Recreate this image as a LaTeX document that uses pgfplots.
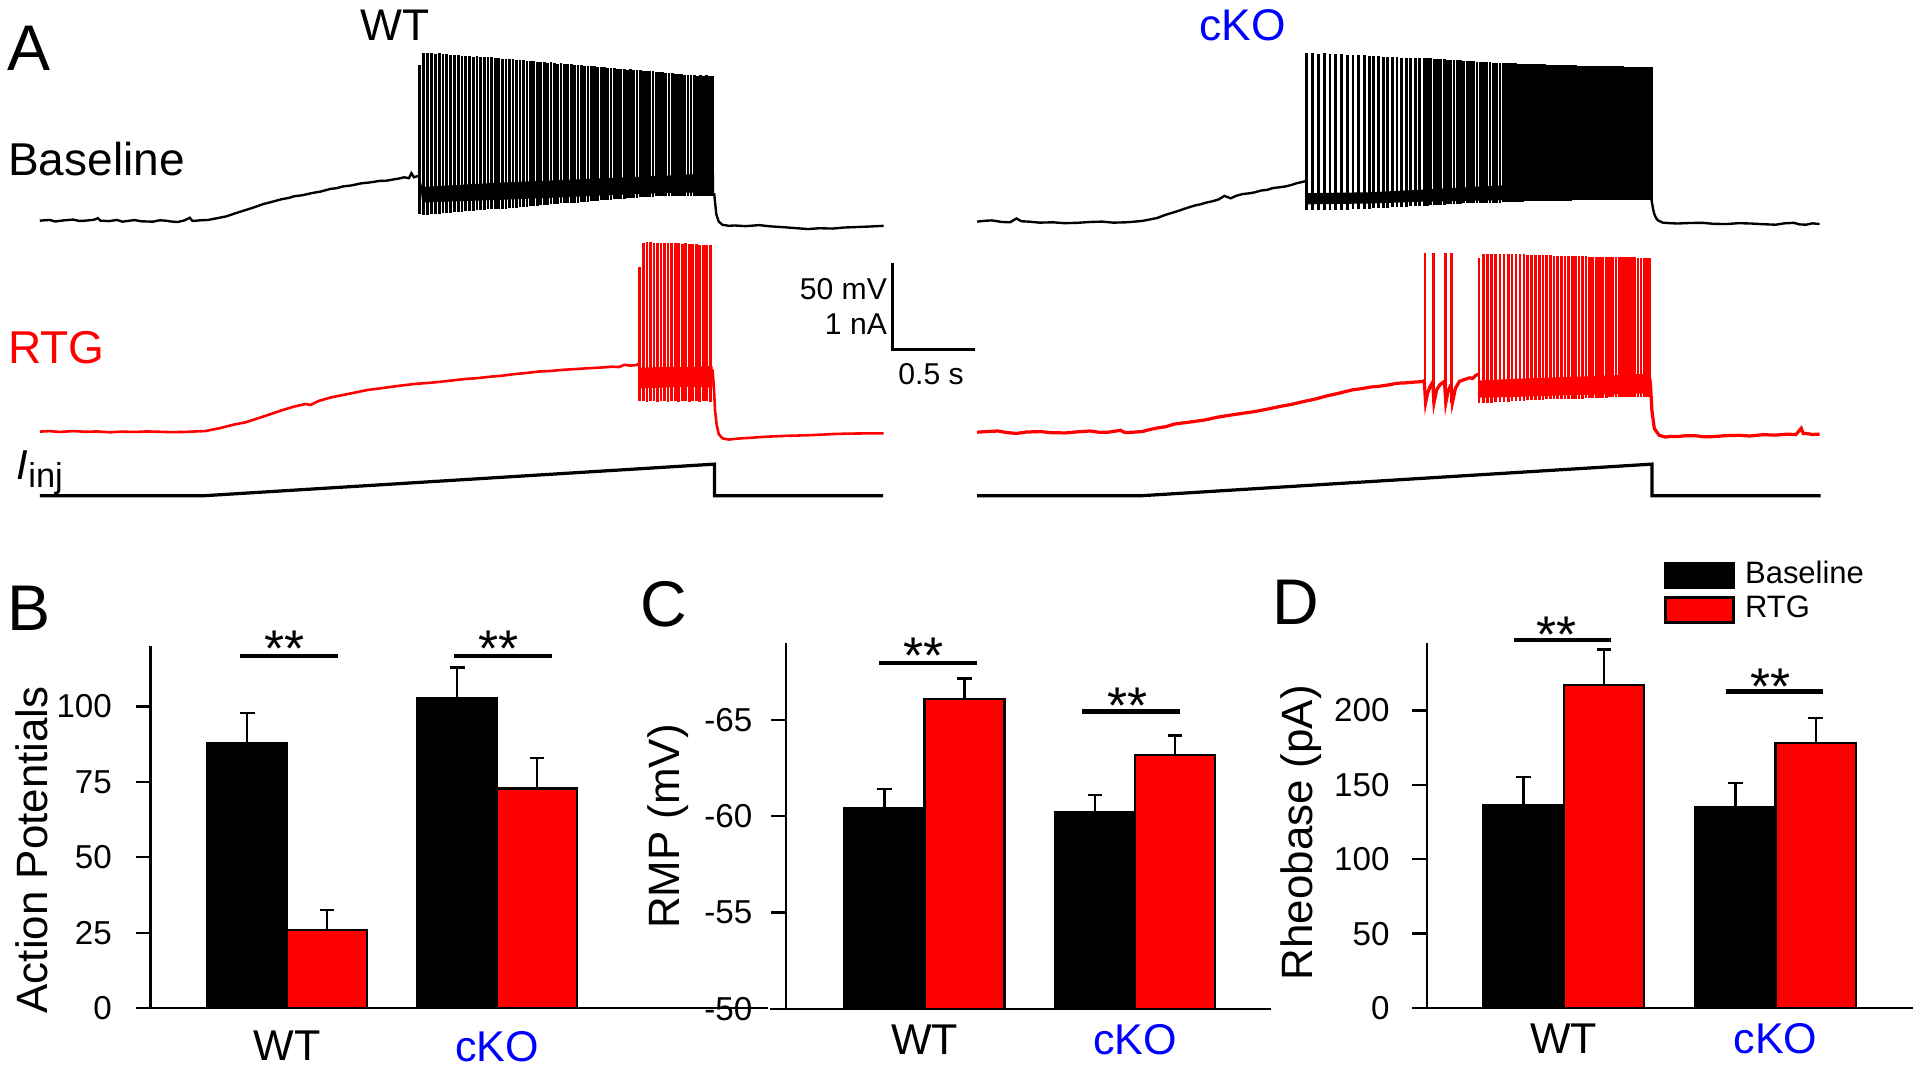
\documentclass[border=0pt]{standalone}
\usepackage{fontspec}
\setmainfont{Liberation Sans}
\usepackage{pgfplots}
\usepackage{pgfplotstable}
\pgfplotsset{compat=1.18}

\definecolor{rtg}{RGB}{255,0,0}
\definecolor{ko}{RGB}{0,0,255}
\newcommand{\fsz}[1]{\fontsize{#1}{#1}\selectfont}

% ---------------- panel A: traces (t in s, V in mV, I in pA) ----------------
\pgfplotstableread{
t v
0.000 -62.0
0.060 -61.6
0.093 -62.5
0.150 -61.8
0.205 -61.4
0.240 -62.2
0.280 -62.0
0.330 -61.5
0.354 -60.6
0.370 -62.0
0.420 -62.3
0.470 -61.6
0.504 -62.6
0.550 -62.0
0.578 -61.7
0.620 -62.4
0.690 -62.6
0.730 -61.8
0.765 -62.0
0.800 -62.5
0.840 -62.8
0.880 -61.9
0.914 -60.3
0.930 -62.2
0.980 -61.8
1.026 -61.6
1.080 -60.6
1.138 -59.5
1.190 -57.8
1.250 -56.0
1.300 -54.5
1.362 -52.4
1.420 -51.0
1.474 -49.6
1.520 -48.8
1.549 -47.9
1.600 -47.3
1.660 -46.0
1.710 -45.2
1.772 -43.6
1.810 -43.2
1.847 -42.2
1.900 -41.6
1.959 -40.4
2.010 -39.9
2.071 -39.0
2.110 -38.9
2.146 -38.3
2.190 -37.6
2.220 -36.9
2.250 -37.4
2.265 -34.5
2.280 -36.9
2.300 -36.3
2.313 -36.0
}\wtblpre
\pgfplotstableread{
t v
2.313 -36.0
2.330 -42.5
2.800 -40.0
3.300 -38.0
3.800 -36.0
4.110 -34.5
4.110 -45.5
3.800 -46.0
3.300 -48.0
2.800 -50.0
2.330 -51.5
}\wtblband
\pgfplotstableread{
t lo hi
2.315 -58.0 28.0
2.338 -58.5 35.0
2.362 -58.5 35.0
2.386 -58.0 35.2
2.410 -58.0 34.5
2.434 -58.0 35.0
2.457 -57.5 34.5
2.481 -57.5 34.6
2.504 -57.5 34.0
2.527 -57.0 34.2
2.550 -57.0 34.0
2.573 -57.0 33.5
2.596 -56.5 33.6
2.619 -56.5 33.5
2.642 -56.5 33.0
2.664 -56.0 33.2
2.687 -56.0 32.8
2.709 -56.0 32.5
2.731 -55.5 32.6
2.753 -55.5 32.5
2.775 -55.5 32.0
2.797 -55.0 32.1
2.819 -55.0 31.8
2.841 -55.0 31.5
2.862 -54.5 31.6
2.884 -54.5 31.4
2.905 -54.5 31.0
2.926 -54.0 31.1
2.948 -54.0 30.8
2.969 -54.0 30.5
2.990 -53.5 30.6
3.011 -53.5 30.4
3.032 -53.5 30.0
3.053 -53.0 30.1
3.074 -53.0 29.8
3.095 -53.0 29.5
3.115 -52.5 29.6
3.136 -52.5 29.4
3.157 -52.5 29.0
3.177 -52.0 29.1
3.198 -52.0 28.8
3.218 -52.0 28.5
3.239 -51.5 28.6
3.259 -51.5 28.4
3.280 -51.5 28.0
3.300 -51.0 28.1
3.320 -51.0 27.8
3.341 -51.0 27.5
3.361 -50.5 27.6
3.381 -50.5 27.4
3.401 -50.5 27.0
3.421 -50.0 27.1
3.441 -50.0 26.8
3.461 -50.0 26.5
3.481 -50.0 26.6
3.501 -49.5 26.4
3.521 -49.5 26.0
3.541 -49.5 26.1
3.561 -49.5 25.8
3.581 -49.0 25.5
3.600 -49.0 25.6
3.620 -49.0 25.4
3.640 -49.0 25.0
3.659 -48.5 25.1
3.679 -48.5 24.8
3.698 -48.5 24.5
3.718 -48.5 24.6
3.737 -48.5 24.4
3.757 -48.0 24.0
3.776 -48.0 24.1
3.796 -48.0 23.8
3.815 -48.0 23.5
3.834 -48.0 23.6
3.854 -48.0 23.4
3.873 -48.0 23.0
3.892 -48.0 23.1
3.911 -48.0 22.8
3.931 -48.0 22.5
3.950 -48.0 22.6
3.969 -48.0 22.5
3.988 -48.0 22.4
4.007 -48.0 22.0
4.026 -48.0 22.2
4.045 -48.0 22.0
4.064 -48.0 22.1
4.083 -48.0 22.0
4.102 -48.0 22.0
}\wtblspk
\pgfplotstableread{
t v
4.110 -46.0
4.115 -51.2
4.123 -58.3
4.138 -62.6
4.160 -64.4
4.200 -65.0
4.235 -64.8
4.300 -65.2
4.384 -64.6
4.450 -65.3
4.534 -65.8
4.600 -66.3
4.683 -66.9
4.750 -66.4
4.832 -66.6
4.900 -66.0
4.981 -65.7
5.060 -65.4
5.143 -65.0
}\wtblpost

\pgfplotstableread{
t v
0.000 -66.0
0.060 -65.7
0.120 -66.2
0.205 -65.7
0.280 -66.1
0.350 -65.9
0.429 -66.4
0.500 -66.0
0.580 -66.2
0.653 -65.9
0.730 -66.1
0.800 -66.3
0.877 -66.2
0.950 -65.9
1.007 -65.7
1.101 -63.9
1.180 -62.0
1.250 -60.7
1.320 -58.6
1.399 -56.1
1.480 -53.5
1.549 -51.5
1.620 -50.0
1.650 -50.6
1.698 -48.3
1.770 -46.3
1.847 -44.8
1.920 -43.4
1.996 -41.9
2.070 -41.0
2.146 -40.0
2.220 -39.1
2.295 -38.3
2.370 -37.8
2.444 -37.1
2.520 -36.3
2.593 -35.5
2.670 -35.0
2.743 -34.2
2.820 -33.6
2.892 -32.7
2.960 -32.1
3.041 -31.2
3.110 -30.9
3.190 -30.2
3.260 -29.8
3.340 -29.3
3.420 -28.9
3.489 -28.4
3.530 -28.6
3.563 -27.3
3.600 -27.8
3.638 -27.4
3.652 -26.5
}\wtrtpre
\pgfplotstableread{
t v
3.652 -26.5
3.665 -29.0
3.800 -28.5
3.950 -28.5
4.100 -28.0
4.100 -40.5
3.950 -40.0
3.800 -40.5
3.665 -41.0
}\wtrtband
\pgfplotstableread{
t lo hi
3.657 -48.5 29.5
3.678 -48.5 43.5
3.700 -48.8 44.0
3.721 -48.5 44.0
3.743 -48.5 43.5
3.764 -48.8 43.5
3.786 -48.5 43.5
3.807 -48.5 43.0
3.829 -48.8 43.5
3.850 -48.5 43.0
3.872 -48.5 43.0
3.893 -48.8 43.0
3.915 -48.5 42.5
3.936 -48.5 43.0
3.958 -48.8 42.5
3.979 -48.5 42.5
4.001 -48.5 42.5
4.022 -48.8 42.0
4.044 -48.5 42.0
4.065 -48.5 42.0
4.087 -48.8 42.0
}\wtrtspk
\pgfplotstableread{
t v
4.100 -30.0
4.108 -40.0
4.115 -53.6
4.125 -62.0
4.138 -67.5
4.160 -69.9
4.198 -70.6
4.272 -69.9
4.330 -69.6
4.384 -69.2
4.460 -68.8
4.534 -68.5
4.610 -68.3
4.683 -68.1
4.760 -67.8
4.832 -67.4
4.910 -67.2
4.981 -67.1
5.060 -67.0
5.143 -67.0
}\wtrtpost

\pgfplotstableread{
t v
0.000 -60.0
0.050 -59.5
0.090 -59.3
0.150 -60.2
0.201 -60.4
0.239 -58.2
0.270 -59.8
0.313 -60.0
0.380 -60.6
0.463 -60.4
0.530 -60.9
0.612 -60.7
0.690 -60.2
0.761 -60.0
0.830 -60.6
0.910 -60.4
0.960 -60.0
1.007 -59.6
1.050 -58.8
1.097 -57.9
1.150 -56.0
1.209 -54.3
1.265 -52.5
1.321 -50.8
1.360 -50.0
1.396 -49.0
1.430 -48.3
1.470 -47.2
1.507 -45.1
1.545 -46.5
1.580 -45.0
1.619 -44.0
1.660 -43.6
1.694 -43.0
1.730 -42.0
1.769 -41.6
1.800 -40.6
1.843 -40.1
1.880 -39.6
1.918 -38.7
1.950 -37.7
1.970 -37.3
2.000 -36.6
}\kobpre
\pgfplotstableread{
t v
2.000 -36.6
2.010 -43.5
2.400 -43.0
2.700 -41.5
3.200 -39.0
3.700 -37.5
4.108 -36.0
4.108 -46.5
3.700 -47.0
3.200 -47.5
2.700 -48.5
2.400 -49.5
2.010 -50.0
}\kobband
\pgfplotstableread{
t lo hi
2.007 -53.5 37.5
2.043 -53.5 37.5
2.079 -53.5 37.0
2.115 -53.5 37.5
2.150 -53.0 37.0
2.186 -53.0 37.0
2.221 -53.0 37.0
2.256 -53.0 36.5
2.291 -52.5 36.5
2.326 -52.5 36.5
2.360 -52.5 36.5
2.389 -52.5 36.0
2.417 -52.0 36.0
2.446 -52.0 36.0
2.474 -52.0 35.5
2.503 -52.0 35.5
2.531 -51.5 35.5
2.559 -51.5 35.5
2.587 -51.5 35.0
2.615 -51.5 35.0
2.643 -51.0 35.0
2.670 -51.0 35.0
2.697 -51.0 34.5
2.724 -51.0 34.5
2.745 -51.0 34.5
2.765 -50.5 34.5
2.786 -50.5 34.0
2.806 -50.5 34.0
2.826 -50.5 34.0
2.846 -50.5 34.0
2.866 -50.0 33.5
2.886 -50.0 33.5
2.906 -50.0 33.5
2.926 -50.0 33.5
2.946 -50.0 33.5
2.966 -49.5 33.0
2.986 -49.5 33.0
3.006 -49.5 33.0
3.026 -49.5 33.0
3.046 -49.5 32.5
3.066 -49.5 32.5
3.086 -49.0 32.5
3.106 -49.0 32.5
3.126 -49.0 32.5
3.146 -49.0 32.0
3.166 -49.0 32.0
3.186 -49.0 32.0
3.206 -48.5 32.0
3.226 -48.5 32.0
3.240 -48.5 31.8
3.255 -48.5 31.8
3.269 -48.5 31.6
3.284 -48.5 31.6
3.298 -48.5 31.5
3.313 -48.4 31.5
3.327 -48.4 31.4
3.342 -48.3 31.4
3.356 -48.3 31.3
3.371 -48.2 31.3
3.385 -48.2 31.2
3.400 -48.2 31.2
3.414 -48.1 31.1
3.429 -48.1 31.1
3.443 -48.1 31.0
3.458 -48.0 31.0
3.472 -48.0 30.9
3.487 -48.0 30.9
3.501 -48.0 30.8
3.516 -47.9 30.8
3.530 -47.9 30.8
3.545 -47.9 30.7
3.559 -47.9 30.7
3.574 -47.8 30.6
3.588 -47.8 30.6
3.603 -47.8 30.6
3.617 -47.8 30.5
3.632 -47.7 30.5
3.646 -47.7 30.5
3.661 -47.7 30.4
3.675 -47.7 30.4
3.690 -47.6 30.4
3.704 -47.6 30.3
3.719 -47.6 30.3
3.733 -47.6 30.3
3.748 -47.6 30.2
3.762 -47.5 30.2
3.777 -47.5 30.2
3.791 -47.5 30.1
3.806 -47.5 30.1
3.820 -47.5 30.1
3.835 -47.5 30.0
3.849 -47.5 30.0
3.864 -47.4 30.0
3.878 -47.4 30.0
3.893 -47.4 29.9
3.907 -47.4 29.9
3.922 -47.4 29.9
3.936 -47.4 29.9
3.951 -47.4 29.8
3.965 -47.4 29.8
3.980 -47.4 29.8
3.994 -47.4 29.8
4.009 -47.4 29.8
4.023 -47.4 29.8
4.038 -47.4 29.8
4.052 -47.4 29.8
4.067 -47.4 29.8
4.081 -47.4 29.8
4.096 -47.4 29.8
4.108 -47.4 29.8
}\kobspk
\pgfplotstableread{
t v
4.108 -46.0
4.112 -48.7
4.120 -53.0
4.127 -55.7
4.138 -58.0
4.149 -59.3
4.179 -60.6
4.220 -60.9
4.269 -61.1
4.340 -60.8
4.418 -60.7
4.490 -61.3
4.567 -61.4
4.640 -60.9
4.716 -61.1
4.790 -61.5
4.866 -61.8
4.920 -61.0
4.978 -60.7
5.010 -61.6
5.052 -61.8
5.090 -61.0
5.134 -61.4
}\kobpost

\pgfplotstableread{
t v
0.000 -63.0
0.060 -62.6
0.127 -62.3
0.180 -63.2
0.239 -63.7
0.300 -62.9
0.388 -62.6
0.450 -63.3
0.537 -63.4
0.610 -62.8
0.687 -62.3
0.750 -63.1
0.799 -63.0
0.873 -61.9
0.900 -63.2
0.948 -63.0
1.007 -62.6
1.050 -61.5
1.100 -60.5
1.150 -59.8
1.200 -58.3
1.290 -57.2
1.388 -55.9
1.470 -54.2
1.550 -53.0
1.620 -52.0
1.687 -51.1
1.770 -49.6
1.850 -48.0
1.920 -46.8
1.985 -45.3
2.060 -43.8
2.130 -42.0
2.210 -40.3
2.284 -38.5
2.340 -37.8
2.400 -36.8
2.450 -36.4
2.507 -35.6
2.560 -34.6
2.600 -34.5
2.660 -34.0
2.709 -33.7
2.725 -33.2
2.733 -46.0
2.745 -40.5
2.760 -36.5
2.776 -34.0
2.784 -46.0
2.800 -38.5
2.820 -35.5
2.848 -33.5
2.856 -46.0
2.870 -39.0
2.888 -35.5
2.896 -46.0
2.915 -37.5
2.940 -33.5
2.970 -32.5
3.000 -31.5
3.020 -31.8
3.040 -30.0
3.054 -29.5
}\korpre
\pgfplotstableread{
t v
3.054 -29.5
3.062 -33.0
3.300 -32.0
3.600 -31.0
3.900 -30.0
4.100 -29.0
4.100 -40.5
3.900 -41.0
3.600 -41.5
3.300 -42.5
3.062 -43.0
}\korband
\pgfplotstableread{
t lo hi
2.729 -46.3 40.6
2.780 -46.3 40.6
2.852 -46.3 40.6
2.892 -46.3 40.8
3.058 -46.0 37.7
3.084 -46.0 40.5
3.110 -46.0 40.5
3.136 -46.0 40.5
3.161 -45.5 40.5
3.186 -45.5 40.5
3.211 -45.5 40.0
3.236 -45.5 40.0
3.260 -45.0 40.0
3.284 -45.0 40.0
3.308 -45.0 40.0
3.332 -45.0 40.0
3.356 -44.5 39.5
3.379 -44.5 39.5
3.402 -44.5 39.5
3.425 -44.5 39.5
3.448 -44.5 39.5
3.471 -44.0 39.5
3.494 -44.0 39.5
3.516 -44.0 39.0
3.538 -44.0 39.0
3.560 -44.0 39.0
3.582 -43.5 39.0
3.604 -43.5 39.0
3.626 -43.5 39.0
3.647 -43.5 39.0
3.668 -43.5 39.0
3.689 -43.5 39.0
3.710 -43.0 39.0
3.731 -43.0 38.5
3.752 -43.0 38.5
3.773 -43.0 38.5
3.793 -43.0 38.5
3.813 -43.0 38.5
3.833 -43.0 38.5
3.853 -42.5 38.5
3.873 -42.5 38.5
3.893 -42.5 38.5
3.913 -42.5 38.5
3.932 -42.5 38.5
3.951 -42.5 38.5
3.970 -42.5 38.5
3.989 -42.5 38.5
4.008 -42.5 38.5
4.027 -42.5 38.0
4.046 -42.5 38.0
4.065 -42.5 38.0
4.083 -42.5 37.8
4.096 -42.5 37.7
}\korspk
\pgfplotstableread{
t v
4.100 -32.0
4.104 -36.0
4.112 -50.2
4.127 -60.9
4.157 -64.8
4.194 -65.8
4.230 -65.4
4.269 -65.5
4.320 -65.0
4.381 -65.1
4.440 -65.7
4.493 -65.5
4.560 -65.0
4.642 -64.8
4.710 -65.2
4.791 -64.4
4.860 -64.7
4.940 -64.1
4.990 -64.4
5.022 -60.7
5.035 -63.8
5.052 -63.7
5.090 -64.3
5.134 -64.1
}\korpost

% injected current ramp (pA)
\pgfplotstableread{
t i
0.000 0
1.007 0
4.112 360
4.112 0
5.140 0
}\iinj

% ---------------- panels B-D: mean and s.e.m. ----------------
\pgfplotstableread{
g bl blerr rtg rtgerr
1 88.0 9.8 25.9 6.6
2 102.9 10.0 72.8 10.2
}\apdat
\pgfplotstableread{
g bl blerr rtg rtgerr
1 -60.4 1.0 -66.1 1.05
2 -60.2 0.9 -63.2 1.0
}\rmpdat
\pgfplotstableread{
g bl blerr rtg rtgerr
1 136.4 19.0 217.1 23.8
2 135.0 16.1 178.0 17.0
}\rhdat

\pgfplotsset{
  trace/.style={hide axis, x=13.4mm, y=0.141mm, xmin=0, xmax=5.15,
    ymin=-100, ymax=60, clip=false, anchor=south west},
  spk/.style={draw=none, mark=none,
    error bars/y dir=plus, error bars/y explicit, error bars/error mark=none,
    error bars/error bar style={line width=0.65pt, draw=#1}},
  barpanel/.style={anchor=center, ybar, bar width=0.38, enlargelimits=false,
    axis x line*=bottom, axis y line*=left,
    axis line style={line width=0.55pt, -},
    tick align=outside, major tick length=1.2mm,
    ytick style={line width=0.55pt, black},
    xtick={1,2}, xticklabels={WT,\textcolor{ko}{cKO}},
    xtick style={draw=none},
    yticklabel style={font=\fsz{7.7}, inner sep=0pt},
    xticklabel style={font=\fsz{10}, inner sep=0pt},
    /pgf/number format/assume math mode=true,
    clip mode=individual},
  blbar/.style={fill=black, draw=black, line width=0.5pt, bar shift=-0.19,
    error bars/y dir=#1, error bars/y explicit,
    error bars/error bar style={line width=0.55pt, black},
    error bars/error mark options={rotate=90, black, line width=0.55pt, mark size=0.6mm}},
  rtgbar/.style={fill=rtg, draw=black, line width=0.5pt, bar shift=0.19,
    error bars/y dir=#1, error bars/y explicit,
    error bars/error bar style={line width=0.55pt, black},
    error bars/error mark options={rotate=90, black, line width=0.55pt, mark size=0.6mm}},
  boxleg/.style={legend image code/.code={\draw[##1, draw=black, line width=0.7pt] (0mm,-1.0mm) rectangle (5.6mm,1.0mm);}},
}

\begin{document}
\begin{tikzpicture}
\path[use as bounding box] (0,0) rectangle (156.8mm,-87.3mm);

% ---- A, WT ----
\begin{axis}[trace, at={(3.25mm,-23.378mm)}]
  \addplot[black, line width=0.55pt] table {\wtblpre};
  \addplot[fill=black, draw=none] table {\wtblband};
  \addplot[spk=black] table[x=t, y=lo, y error expr=\thisrow{hi}-\thisrow{lo}] {\wtblspk};
  \addplot[black, line width=0.55pt] table {\wtblpost};
\end{axis}
\begin{axis}[trace, at={(3.25mm,-40.044mm)}]
  \addplot[rtg, line width=0.6pt] table {\wtrtpre};
  \addplot[fill=rtg, draw=none] table {\wtrtband};
  \addplot[spk=rtg] table[x=t, y=lo, y error expr=\thisrow{hi}-\thisrow{lo}] {\wtrtspk};
  \addplot[rtg, line width=0.6pt] table {\wtrtpost};
  % scale bar: 50 mV / 1 nA, 0.5 s
  \draw[line width=0.7pt] (axis cs:5.198,31.66) |- (axis cs:5.698,-18.34);
\end{axis}
\begin{axis}[trace, y=0.00716mm, ymin=-50, ymax=400, at={(3.25mm,-40.838mm)}]
  \addplot[black, line width=0.75pt] table {\iinj};
\end{axis}

% ---- A, cKO ----
\begin{axis}[trace, at={(79.8mm,-23.74mm)}]
  \addplot[black, line width=0.55pt] table {\kobpre};
  \addplot[fill=black, draw=none] table {\kobband};
  \addplot[spk=black] table[x=t, y=lo, y error expr=\thisrow{hi}-\thisrow{lo}] {\kobspk};
  \addplot[black, line width=0.55pt] table {\kobpost};
\end{axis}
\begin{axis}[trace, at={(79.8mm,-40.517mm)}]
  \addplot[rtg, line width=0.75pt] table {\korpre};
  \addplot[fill=rtg, draw=none] table {\korband};
  \addplot[spk=rtg] table[x=t, y=lo, y error expr=\thisrow{hi}-\thisrow{lo}] {\korspk};
  \addplot[rtg, line width=0.75pt] table {\korpost};
\end{axis}
\begin{axis}[trace, y=0.00716mm, ymin=-50, ymax=400, at={(79.8mm,-40.838mm)}]
  \addplot[black, line width=0.75pt] table {\iinj};
\end{axis}

% ---- B ----
\begin{axis}[barpanel, at={(37.5mm,-67.55mm)}, x=17.15mm, y=0.2463mm,
  xmin=0.3504, xmax=3.289, ymin=0, ymax=120, ytick={0,25,50,75,100},
  yticklabel shift=1.9mm, xticklabel shift=0.6mm]
  \addplot[blbar=plus] table[x=g, y=bl, y error=blerr] {\apdat};
  \addplot[rtgbar=plus] table[x=g, y=rtg, y error=rtgerr] {\apdat};
  \draw[line width=0.55pt] (axis cs:0.3504,0) -- (axis cs:0.2804,0);
\end{axis}

% ---- C ----
\begin{axis}[barpanel, at={(83.98mm,-67.45mm)}, x=17.2mm, y=1.574mm,
  xmin=0.343, xmax=2.643, ymin=-69, ymax=-50, y dir=reverse,
  ytick={-65,-60,-55,-50}, yticklabels={-65,-60,-55,-50},
  yticklabel shift=1.5mm]
  \addplot[blbar=minus] table[x=g, y=bl, y error=blerr] {\rmpdat};
  \addplot[rtgbar=minus] table[x=g, y=rtg, y error=rtgerr] {\rmpdat};
  \draw[line width=0.55pt] (axis cs:0.343,-50) -- (axis cs:0.2674,-50);
\end{axis}

% ---- D ----
\begin{axis}[barpanel, at={(136.37mm,-67.435mm)}, x=17.3mm, y=0.1216mm,
  xmin=0.355, xmax=2.647, ymin=0, ymax=245, ytick={0,50,100,150,200},
  yticklabel shift=1.8mm,
  legend style={at={(axis description cs:0.4856,1.228)}, anchor=north west,
    draw=none, fill=none, inner sep=0pt, row sep=0.5mm, column sep=0.8mm,
    nodes={inner sep=0pt}, font=\fsz{7.2}},
  legend cell align=left]
  \addplot[blbar=plus, boxleg] table[x=g, y=bl, y error=blerr] {\rhdat};
  \addplot[rtgbar=plus, boxleg] table[x=g, y=rtg, y error=rtgerr] {\rhdat};
  \draw[line width=0.55pt] (axis cs:0.355,0) -- (axis cs:0.2856,0);
  \legend{Baseline,RTG}
\end{axis}

% ---- text and significance marks (coordinates in 0.1 mm from top left) ----
\begin{scope}[x=0.1mm, y=-0.1mm, every node/.style={inner sep=0pt}]
  \node[font=\fsz{15}] at (24,39.5) {A};
  \node[font=\fsz{15}] at (24,497) {B};
  \node[font=\fsz{15}] at (542,493.5) {C};
  \node[font=\fsz{15}] at (1058,492) {D};
  \node[font=\fsz{10.3}] at (322.6,21) {WT};
  \node[font=\fsz{10.3}, text=ko] at (1015,20.5) {cKO};
  \node[font=\fsz{10.7}, anchor=west] at (6,130) {Baseline};
  \node[font=\fsz{10.7}, anchor=west, text=rtg] at (6,284) {RTG};
  \node[anchor=base west] at (13,392) {\fsz{9.7}\textit{I}\raisebox{-0.6mm}{\fsz{8}inj}};
  \node[font=\fsz{7}, anchor=east] at (725,236) {50 mV};
  \node[font=\fsz{7}, anchor=east] at (725,264.6) {1 nA};
  \node[font=\fsz{7}, anchor=west] at (733,305.7) {0.5 s};
  \node[font=\fsz{10.2}, rotate=90] at (25.8,694) {Action Potentials};
  \node[font=\fsz{10.2}, rotate=90] at (546,675) {RMP (mV)};
  \node[font=\fsz{10.2}, rotate=90] at (1062.5,680) {Rheobase (pA)};
  \draw[line width=1pt] (196,535.5) -- (276,535.5) (371,535.5) -- (451,535.5)
    (718,541.7) -- (798,541.7) (884,581) -- (963.7,581)
    (1236,522.9) -- (1316,522.9) (1409.6,564.7) -- (1489,564.7);
  \node[font=\fsz{12}, anchor=north] at (232.6,514.6) {**};
  \node[font=\fsz{12}, anchor=north] at (407.5,514.6) {**};
  \node[font=\fsz{12}, anchor=north] at (754,520) {**};
  \node[font=\fsz{12}, anchor=north] at (920.7,561) {**};
  \node[font=\fsz{12}, anchor=north] at (1271,503) {**};
  \node[font=\fsz{12}, anchor=north] at (1446,545.6) {**};
\end{scope}
\end{tikzpicture}
\end{document}
